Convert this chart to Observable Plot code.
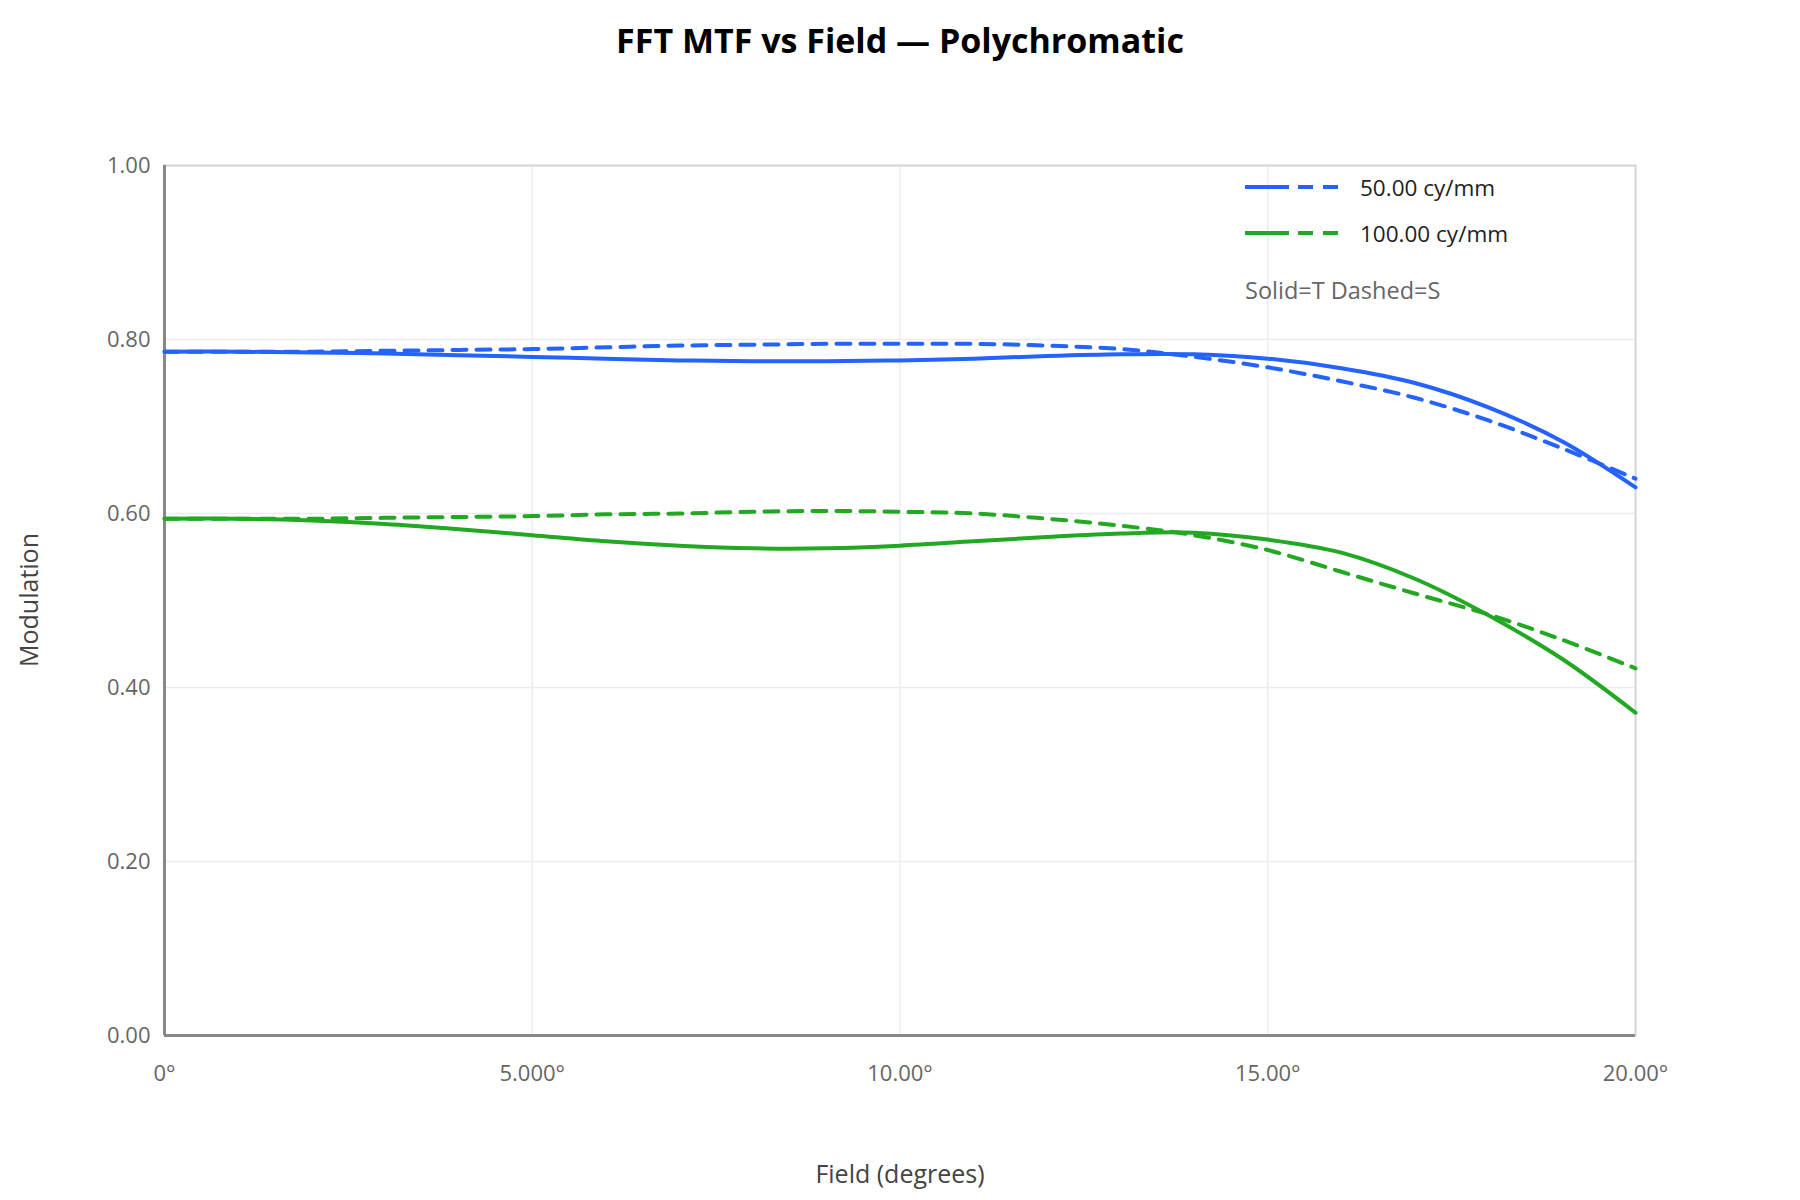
<!DOCTYPE html>
<html>
<head>
<meta charset="utf-8">
<script src="https://cdn.jsdelivr.net/npm/d3@7"></script>
<script src="https://cdn.jsdelivr.net/npm/@observablehq/plot@0.6"></script>
<style>
  html, body { margin: 0; padding: 0; background: #fff; }
  #wrap { position: relative; width: 1800px; height: 1200px; font-family: "Open Sans", "Noto Sans", sans-serif; }
  #title { position: absolute; left: 0; top: 17px; width: 1800px; text-align: center; font-weight: 700; font-size: 34px; color: #000; }
  #chart { position: absolute; left: 0; top: 80px; }
  .lab { position: absolute; font-size: 25px; color: #444; white-space: nowrap; }
  #legend { position: absolute; left: 1245px; top: 164px; font-size: 22.5px; color: #222; }
  .row { display: flex; align-items: center; height: 46px; }
  .row svg { margin-right: 22px; }
  #note { color: #666; margin-top: 18px; font-size: 23.5px; }
</style>
</head>
<body>
<div id="wrap">
  <div id="title">FFT MTF vs Field — Polychromatic</div>
  <div id="chart"></div>
  <div class="lab" id="xlab" style="left:0;width:1800px;text-align:center;top:1156px;">Field (degrees)</div>
  <div class="lab" id="ylab" style="left:28px;top:600px;transform:translate(-50%,-50%) rotate(-90deg);">Modulation</div>
  <div id="legend"></div>
</div>
<script>
// ---- data ----
const fieldDeg = [0,1,2,3,4,5,6,7,8,9,10,11,12,13,14,15,16,17,18,19,20];
const freqLabels = ["50.00 cy/mm", "100.00 cy/mm"];
const seriesColors = ["#2463ff", "#22a823"];
const blueT  = [0.786,0.786,0.785,0.784,0.782,0.780,0.778,0.776,0.775,0.775,0.776,0.778,0.781,0.783,0.783,0.778,0.767,0.750,0.722,0.683,0.630];
const blueS  = [0.786,0.786,0.786,0.787,0.788,0.789,0.791,0.793,0.794,0.795,0.795,0.795,0.793,0.789,0.780,0.768,0.752,0.733,0.707,0.675,0.640];
const greenT = [0.594,0.594,0.592,0.588,0.582,0.575,0.568,0.563,0.560,0.560,0.563,0.568,0.573,0.577,0.578,0.570,0.555,0.525,0.483,0.433,0.371];
const greenS = [0.594,0.594,0.594,0.595,0.596,0.597,0.599,0.600,0.602,0.603,0.602,0.600,0.594,0.586,0.575,0.558,0.533,0.508,0.484,0.455,0.422];
const xTicks = [0,5,10,15,20];
const xTickLabels = ["0°","5.000°","10.00°","15.00°","20.00°"];
const yTicks = [0,0.2,0.4,0.6,0.8,1.0];
const yTickLabels = ["0.00","0.20","0.40","0.60","0.80","1.00"];

// ---- tidy rows ----
const rows = [];
[[blueT,0,"T"],[blueS,0,"S"],[greenT,1,"T"],[greenS,1,"S"]].forEach(([vals,fi,type]) => {
  vals.forEach((v,i) => rows.push({field: fieldDeg[i], value: v, freq: freqLabels[fi], type, key: freqLabels[fi]+type}));
});
const tRows = rows.filter(d => d.type === "T");
const sRows = rows.filter(d => d.type === "S");

const chart = Plot.plot({
  width: 1800,
  height: 1120,
  marginTop: 85,
  marginLeft: 164,
  marginRight: 165,
  marginBottom: 165,
  style: { fontFamily: '"Open Sans", "Noto Sans", sans-serif', fontSize: "22px", background: "#fff" },
  x: { domain: [0, 20] },
  y: { domain: [0, 1] },
  color: { domain: freqLabels, range: seriesColors },
  marks: [
    Plot.gridX(xTicks.slice(1, -1), { stroke: "#ececec", strokeOpacity: 1, strokeWidth: 1.5 }),
    Plot.gridY(yTicks.slice(1, -1), { stroke: "#ececec", strokeOpacity: 1, strokeWidth: 1.5 }),
    Plot.frame({ stroke: "#d4d4d4", strokeWidth: 2 }),
    Plot.ruleX([0], { stroke: "#888", strokeWidth: 3 }),
    Plot.ruleY([0], { stroke: "#888", strokeWidth: 3 }),
    Plot.axisX({ ticks: xTicks, tickFormat: d => xTickLabels[xTicks.indexOf(d)], tickSize: 0, tickPadding: 30, fill: "#666", label: null }),
    Plot.axisY({ ticks: yTicks, tickFormat: d => yTickLabels[yTicks.findIndex(t => Math.abs(t - d) < 1e-9)], tickSize: 0, tickPadding: 14, fill: "#666", label: null }),
    Plot.line(sRows, { x: "field", y: "value", z: "key", stroke: "freq", strokeWidth: 4, strokeDasharray: "14 10", curve: "catmull-rom" }),
    Plot.line(tRows, { x: "field", y: "value", z: "key", stroke: "freq", strokeWidth: 4, curve: "catmull-rom" })
  ]
});
document.getElementById("chart").appendChild(chart);

// ---- legend ----
const leg = document.getElementById("legend");
freqLabels.forEach((lab, i) => {
  const row = document.createElement("div");
  row.className = "row";
  const c = seriesColors[i];
  row.innerHTML = `<svg width="93" height="6"><line x1="0" y1="3" x2="44" y2="3" stroke="${c}" stroke-width="4"/><line x1="53" y1="3" x2="93" y2="3" stroke="${c}" stroke-width="4" stroke-dasharray="15 10"/></svg><span>${lab}</span>`;
  leg.appendChild(row);
});
const note = document.createElement("div");
note.id = "note";
note.textContent = "Solid=T Dashed=S";
leg.appendChild(note);
</script>
</body>
</html>
